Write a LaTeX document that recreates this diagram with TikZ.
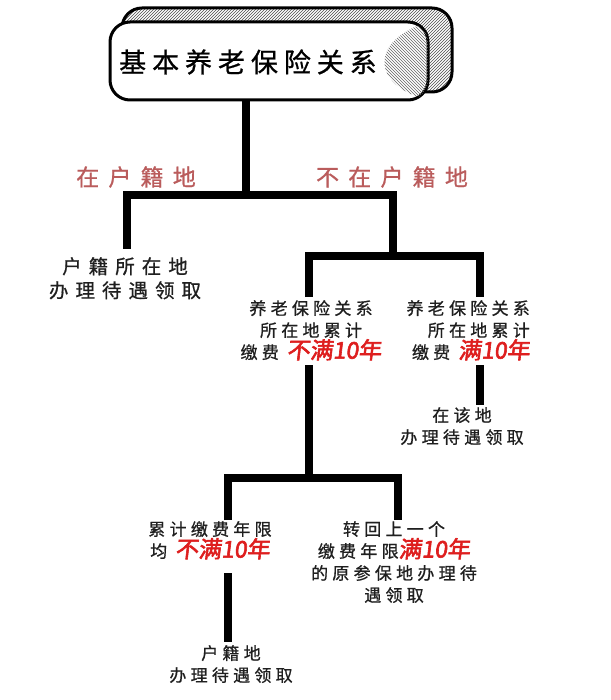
\documentclass[tikz,border=0pt]{standalone}
\usepackage{fontspec}
\newfontfamily\cjk{Noto Sans CJK SC}[LetterSpace=25,FakeBold=0.8]
\newfontfamily\cjkbig{Noto Sans CJK SC}[LetterSpace=36,FakeBold=0.8]
\newfontfamily\cjktitle{Noto Sans CJK SC}[LetterSpace=22,FakeBold=0.8]
\newfontfamily\cjklab{Noto Sans CJK SC}[LetterSpace=40,FakeBold=0.8]
\newfontfamily\cjkhl{Noto Sans CJK SC}[LetterSpace=0,FakeBold=2.5,FakeSlant=0.12]
\usetikzlibrary{patterns}
\definecolor{labred}{RGB}{186,92,92}
\definecolor{hlred}{RGB}{222,30,30}
\newcommand\hlt[1]{{\cjkhl\color{hlred}\fontsize{23}{23}\selectfont #1}}
\tikzset{
  bar/.style={line width=8.5pt, line cap=butt, line join=miter},
  txt/.style={font=\cjk\fontsize{17}{22}\selectfont, align=center, inner sep=0pt, text=black!88},
  bigtxt/.style={font=\cjkbig\fontsize{19.5}{24}\selectfont, align=center, inner sep=0pt, text=black!88},
  lab/.style={font=\cjklab\fontsize{23}{23}\selectfont, text=labred, inner sep=0pt},
}
\begin{document}
\begin{tikzpicture}[x=1pt,y=-1pt]
\useasboundingbox (0,0) rectangle (610,700);
\fill[white] (0,0) rectangle (610,700);
% title box
\draw[line width=3pt, pattern=north east lines, pattern color=black!70, rounded corners=20pt] (122,8) rectangle (452,92);
\draw[line width=3pt, fill=white, rounded corners=20pt] (110,22) rectangle (428,100);
\begin{scope}
  \clip[rounded corners=20pt] (110,22) rectangle (428,100);
  \fill[pattern=north west lines, pattern color=black!60] (428,22) .. controls (370,40) and (370,85) .. (428,100) -- cycle;
\end{scope}
\node[font=\cjktitle\fontsize{27}{27}\selectfont, inner sep=0pt, anchor=west] (title) at (119,62) {基本养老保险关系};
\coordinate (tbot) at (246,100);
% level 1
\coordinate (j1) at (246,195);
\coordinate (aTop) at (127,249);
\coordinate (r1) at (393,195);
\coordinate (m2) at (393,256);
\node[lab] (labA) at (136,177) {在户籍地};
\node[lab] (labB) at (392,177) {不在户籍地};
\node[bigtxt, anchor=north] (A) at (125,257) {户籍所在地\\办理待遇领取};
\draw[bar] (tbot) -- (j1);
\draw[bar] (aTop) |- (r1) -- (m2);
% level 2
\coordinate (r2) at (480,256);
\coordinate (bTop) at (309,297);
\coordinate (cTop) at (480,297);
\draw[bar] (bTop) |- (r2) -- (cTop);
\node[txt, anchor=north] (B) at (311,300) {养老保险关系\\所在地累计\\缴费 \hlt{不满10年}};
\node[txt, anchor=north east, align=right] (C) at (530,300) {养老保险关系\\所在地累计\\缴费 \hlt{满10年}};
\coordinate (cBot) at (480,365);
\coordinate (dTop) at (480,405);
\draw[bar] (cBot) -- (dTop);
\node[txt, anchor=north] (D) at (462,407) {在该地\\办理待遇领取};
% level 3
\coordinate (bBot) at (309,365);
\coordinate (j3) at (309,478);
\coordinate (r3) at (398,478);
\coordinate (eTop) at (228,520);
\coordinate (fTop) at (398,520);
\draw[bar] (bBot) -- (j3);
\draw[bar] (eTop) |- (r3) -- (fTop);
\node[txt, anchor=north] (E) at (210,521) {累计缴费年限\\均 \hlt{不满10年}};
\node[txt, anchor=north] (F) at (394,521) {转回上一个\\缴费年限\hlt{满10年}\\的原参保地办理待\\遇领取};
\coordinate (eBot) at (228,573);
\coordinate (gTop) at (228,642);
\draw[bar] (eBot) -- (gTop);
\node[txt, anchor=north] (G) at (231,645) {户籍地\\办理待遇领取};
\end{tikzpicture}
\end{document}
